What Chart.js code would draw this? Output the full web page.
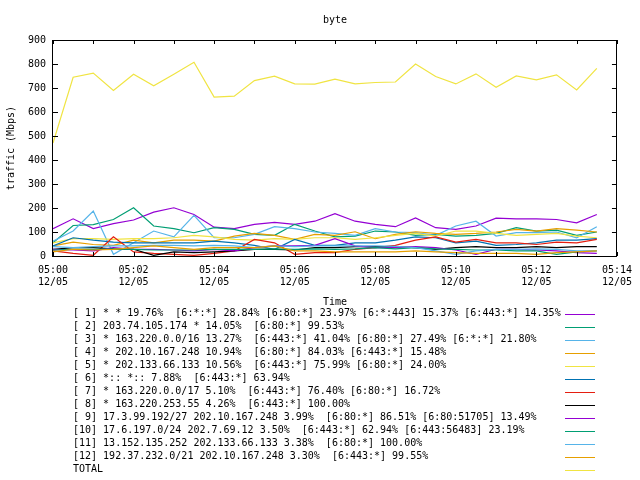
<!DOCTYPE html>
<html>
<head>
<meta charset="utf-8">
<script src="https://cdn.jsdelivr.net/npm/chart.js@4/dist/chart.umd.min.js"></script>
<style>
  html, body { margin: 0; padding: 0; background: #fff; }
  #wrap { width: 640px; height: 480px; }
</style>
</head>
<body>
<div id="wrap"><canvas id="graph" width="640" height="480"></canvas></div>
<script>
// sample times (every 30s)
const times = ['05:00:00','05:00:30','05:01:00','05:01:30','05:02:00','05:02:30','05:03:00','05:03:30',
  '05:04:00','05:04:30','05:05:00','05:05:30','05:06:00','05:06:30','05:07:00','05:07:30',
  '05:08:00','05:08:30','05:09:00','05:09:30','05:10:00','05:10:30','05:11:00','05:11:30',
  '05:12:00','05:12:30','05:13:00','05:13:30'];

const xTickLabels = ['05:00','05:02','05:04','05:06','05:08','05:10','05:12','05:14'];
const xTickDate = '12/05';
const yTicks = [0,100,200,300,400,500,600,700,800,900];

const labels = [
  '[ 1] * * 19.76%  [6:*:*] 28.84% [6:80:*] 23.97% [6:*:443] 15.37% [6:443:*] 14.35%',
  '[ 2] 203.74.105.174 * 14.05%  [6:80:*] 99.53%',
  '[ 3] * 163.220.0.0/16 13.27%  [6:443:*] 41.04% [6:80:*] 27.49% [6:*:*] 21.80%',
  '[ 4] * 202.10.167.248 10.94%  [6:80:*] 84.03% [6:443:*] 15.48%',
  '[ 5] * 202.133.66.133 10.56%  [6:443:*] 75.99% [6:80:*] 24.00%',
  '[ 6] *:: *:: 7.88%  [6:443:*] 63.94%',
  '[ 7] * 163.220.0.0/17 5.10%  [6:443:*] 76.40% [6:80:*] 16.72%',
  '[ 8] * 163.220.253.55 4.26%  [6:443:*] 100.00%',
  '[ 9] 17.3.99.192/27 202.10.167.248 3.99%  [6:80:*] 86.51% [6:80:51705] 13.49%',
  '[10] 17.6.197.0/24 202.7.69.12 3.50%  [6:443:*] 62.94% [6:443:56483] 23.19%',
  '[11] 13.152.135.252 202.133.66.133 3.38%  [6:80:*] 100.00%',
  '[12] 192.37.232.0/21 202.10.167.248 3.30%  [6:443:*] 99.55%',
  'TOTAL'
];

const s1  = [114,155,114,135,150,183,201,173,120,114,132,140,132,145,176,145,132,122,159,118,111,125,158,155,155,152,138,173];
const s2  = [55,127,131,152,201,125,114,97,118,111,90,86,132,104,80,83,104,100,86,90,83,86,94,118,104,108,86,100];
const s3  = [62,104,187,7,55,104,80,169,76,76,90,122,114,100,94,86,114,100,97,86,125,145,83,97,97,100,76,122];
const s4  = [42,58,48,44,66,55,66,66,62,83,94,86,69,90,86,101,72,90,101,94,90,94,100,111,104,114,108,100];
const s5  = [55,72,72,69,72,72,76,86,80,69,66,72,69,76,76,69,76,86,94,83,104,104,94,86,90,94,83,76];
const s6  = [42,76,66,58,55,55,55,55,62,55,44,28,69,44,44,55,55,66,80,76,55,62,44,48,55,66,66,72];
const s7  = [21,11,3,80,17,11,7,3,11,21,69,55,7,14,14,28,35,44,66,80,58,69,55,55,48,58,55,69];
const s8  = [28,35,35,30,28,3,17,14,17,21,28,28,25,35,35,39,39,39,35,28,35,39,35,35,39,35,39,39];
const s9  = [28,25,21,35,28,28,25,21,28,21,35,42,42,44,72,42,35,35,39,35,25,7,28,28,25,21,14,11];
const s10 = [25,28,28,30,28,25,25,25,28,28,28,30,28,30,28,30,35,30,35,30,28,25,25,21,21,7,17,21];
const s11 = [39,35,39,42,42,44,44,42,44,42,35,42,39,42,42,42,42,40,35,21,7,21,28,28,30,28,21,21];
const s12 = [17,28,25,28,35,42,35,28,35,35,35,42,21,21,17,17,17,17,21,17,14,11,11,11,7,14,17,21];
const total = [471,745,762,690,757,709,757,807,662,666,731,749,717,716,737,717,723,725,800,748,717,759,703,750,734,755,692,782];

const series = [s1,s2,s3,s4,s5,s6,s7,s8,s9,s10,s11,s12,total];
const colors = ['#9400d3','#009e73','#56b4e9','#e69f00','#f0e442','#0072b2','#e51e10','#000000'];

const FONT = '10px "DejaVu Sans Mono", monospace';

// minutes after 05:00
function toMin(t) {
  const p = t.split(':').map(Number);
  return (p[0] - 5) * 60 + p[1] + p[2] / 60;
}

const datasets = series.map((vals, i) => ({
  label: labels[i],
  data: vals.map((v, j) => ({ x: toMin(times[j]), y: v })),
  borderColor: colors[i % colors.length],
  borderWidth: 1.2,
  pointRadius: 0,
  tension: 0,
  fill: false,
  order: series.length - i
}));

// gnuplot style frame, mirrored ticks, title, key
const gnuFrame = {
  id: 'gnuFrame',
  afterDraw(chart) {
    const ctx = chart.ctx;
    const a = chart.chartArea;
    const xs = chart.scales.x, ys = chart.scales.y;
    ctx.save();
    ctx.strokeStyle = '#000';
    ctx.lineWidth = 1;
    ctx.strokeRect(Math.round(a.left) - 0.5, Math.round(a.top) + 0.5, Math.round(a.right - a.left), Math.round(a.bottom - a.top));
    ctx.beginPath();
    yTicks.forEach(v => {
      const y = Math.round(ys.getPixelForValue(v)) + 0.5;
      ctx.moveTo(a.left, y); ctx.lineTo(a.left + 5, y);
      ctx.moveTo(a.right, y); ctx.lineTo(a.right - 5, y);
    });
    for (let m = 0; m <= 14; m++) {
      const x = Math.round(xs.getPixelForValue(m)) + 0.5;
      ctx.moveTo(x, a.bottom); ctx.lineTo(x, a.bottom - 4);
      ctx.moveTo(x, a.top); ctx.lineTo(x, a.top + 4);
    }
    ctx.stroke();

    ctx.fillStyle = '#000';
    ctx.font = FONT;
    ctx.textBaseline = 'middle';
    ctx.textAlign = 'center';
    ctx.fillText('byte', 335, 20);
    ctx.fillText('Time', 335, 302);

    ctx.textAlign = 'left';
    chart.data.datasets.forEach((ds, i) => {
      const y = 313.5 + i * 13;
      ctx.fillStyle = '#000';
      ctx.fillText(ds.label, 73, y);
      ctx.strokeStyle = ds.borderColor;
      ctx.beginPath();
      ctx.moveTo(565, Math.round(y) + 0.5);
      ctx.lineTo(595, Math.round(y) + 0.5);
      ctx.stroke();
    });
    ctx.restore();
  }
};

new Chart(document.getElementById('graph'), {
  type: 'line',
  data: { datasets },
  options: {
    responsive: false,
    animation: false,
    events: [],
    layout: { padding: { top: 40, right: 19, left: 0, bottom: 0 } },
    plugins: { legend: { display: false }, title: { display: false }, tooltip: { enabled: false } },
    scales: {
      x: {
        type: 'linear',
        min: 0,
        max: 14,
        grid: { display: false, drawTicks: false },
        border: { display: false },
        afterFit(s) { s.height = 224; },
        ticks: {
          stepSize: 2,
          maxRotation: 0,
          autoSkip: false,
          padding: 8,
          color: '#000',
          font: { family: '"DejaVu Sans Mono", monospace', size: 10, lineHeight: 1.25 },
          callback: (v) => [xTickLabels[v / 2], xTickDate]
        }
      },
      y: {
        min: 0,
        max: 900,
        grid: { display: false, drawTicks: false },
        border: { display: false },
        afterFit(s) { s.width = 53; },
        ticks: {
          stepSize: 100,
          padding: 7,
          color: '#000',
          font: { family: '"DejaVu Sans Mono", monospace', size: 10 }
        },
        title: {
          display: true,
          text: 'traffic (Mbps)',
          color: '#000',
          padding: { top: 5, bottom: 0 },
          font: { family: '"DejaVu Sans Mono", monospace', size: 10 }
        }
      }
    }
  },
  plugins: [gnuFrame]
});
</script>
</body>
</html>
